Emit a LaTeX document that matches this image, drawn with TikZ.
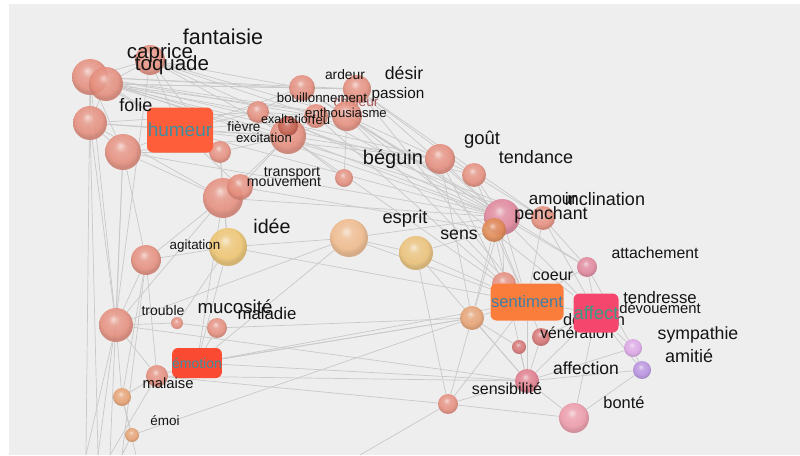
\documentclass[tikz,border=0pt]{standalone}
\usepackage{fontspec}
\setmainfont{Liberation Sans}
\usetikzlibrary{backgrounds}
\definecolor{fond}{HTML}{EEEEEE}
\definecolor{trait}{HTML}{C9C9C9}
\definecolor{encre}{HTML}{141414}
\definecolor{saumon}{HTML}{E58D7C}
\definecolor{rouille}{HTML}{C4604F}
\definecolor{jaune}{HTML}{EDC36E}
\definecolor{peche}{HTML}{EFB98A}
\definecolor{ocre}{HTML}{EAC076}
\definecolor{rose}{HTML}{E0849A}
\definecolor{orange}{HTML}{E08850}
\definecolor{abricot}{HTML}{E6A070}
\definecolor{framboise}{HTML}{E07888}
\definecolor{dragee}{HTML}{EC98A8}
\definecolor{lilas}{HTML}{DCA5E6}
\definecolor{violet}{HTML}{B78FE0}
\definecolor{grenat}{HTML}{D67070}
\definecolor{tomate}{HTML}{FF5E3A}
\definecolor{mandarine}{HTML}{FB7D3C}
\definecolor{fuchsia}{HTML}{F5476E}
\definecolor{vermillon}{HTML}{FA4B32}
\definecolor{sarcelle}{HTML}{3C8EA0}
\definecolor{acier}{HTML}{3F7FA6}
\definecolor{jade}{HTML}{3A9A82}
\colorlet{boulecol}{saumon}
\pgfdeclareradialshading[boulecol]{boule}{\pgfqpoint{-4bp}{9bp}}{%
  color(0bp)=(boulecol!35!white); color(8bp)=(boulecol!85!white);
  color(20bp)=(boulecol); color(25bp)=(boulecol!88!black);
  color(50bp)=(boulecol!88!black)}

\tikzset{
  bulle/.style 2 args={circle, inner sep=0pt, minimum size=#1,
    /utils/exec={\colorlet{boulecol}{#2}}, shading=boule, fill opacity=0.88},
  mot/.style={font=\fontsize{#1}{#1}\selectfont, inner sep=0pt, text=encre},
  cadre/.style={fill=#1, rounded corners=6pt, inner sep=0pt},
  lien/.style={draw=trait, line width=0.7pt},
}

\begin{document}
\begin{tikzpicture}[x=1pt, y=-1pt]
  \useasboundingbox (0,0) rectangle (800,455);

  % mots caches derriere les bulles
  \node[mot=13.7, text=grenat!80!black] (t-chaleur) at (356,102) {chaleur};

  % bulles
  \node[bulle={36}{saumon}] (fant) at (90,77) {};
  \node[bulle={34}{saumon}] (toq) at (106,84) {};
  \node[bulle={30}{saumon}] (capr) at (150,60) {};
  \node[bulle={34}{saumon}] (fol) at (90,123) {};
  \node[bulle={36}{saumon}] (hum2) at (123,152) {};
  \node[bulle={22}{saumon}] (fiev) at (220,152) {};
  \node[bulle={22}{saumon}] (exal) at (258,112) {};
  \node[bulle={36}{saumon}] (exci) at (288,136) {};
  \node[bulle={20}{rouille}] (exci2) at (288,126) {};
  \node[bulle={26}{saumon}] (bouil) at (302,88) {};
  \node[bulle={28}{saumon}] (ardr) at (357,89) {};
  \node[bulle={24}{saumon}] (feu) at (316,116) {};
  \node[bulle={30}{saumon}] (enth) at (347,116) {};
  \node[bulle={18}{saumon}] (trsp) at (344,178) {};
  \node[bulle={40}{saumon}] (mouv) at (223,198) {};
  \node[bulle={26}{saumon}] (mouv2) at (240,187) {};
  \node[bulle={38}{jaune}] (idee) at (228,247) {};
  \node[bulle={30}{saumon}] (agit) at (146,260) {};
  \node[bulle={38}{peche}] (espr) at (349,238) {};
  \node[bulle={34}{ocre}] (espr2) at (416,253) {};
  \node[bulle={30}{saumon}] (begu) at (440,159) {};
  \node[bulle={24}{saumon}] (gout) at (474,175) {};
  \node[bulle={36}{rose}] (penc) at (502,217) {};
  \node[bulle={24}{orange}] (sens) at (494,230) {};
  \node[bulle={24}{saumon}] (incl) at (543,218) {};
  \node[bulle={20}{rose}] (atta) at (587,267) {};
  \node[bulle={24}{saumon}] (coeur) at (504,284) {};
  \node[bulle={24}{abricot}] (sent2) at (472,318) {};
  \node[bulle={18}{grenat}] (vene) at (541,337) {};
  \node[bulle={14}{grenat}] (devo) at (519,347) {};
  \node[bulle={18}{lilas}] (symp) at (633,348) {};
  \node[bulle={18}{violet}] (amit) at (642,370) {};
  \node[bulle={24}{framboise}] (sensi) at (527,381) {};
  \node[bulle={20}{saumon}] (bas) at (448,404) {};
  \node[bulle={30}{dragee}] (bont) at (574,418) {};
  \node[bulle={34}{saumon}] (trou) at (116,325) {};
  \node[bulle={12}{saumon}] (trou2) at (177,323) {};
  \node[bulle={20}{saumon}] (malad) at (217,328) {};
  \node[bulle={22}{saumon}] (malai) at (157,376) {};
  \node[bulle={18}{abricot}] (emoi2) at (122,397) {};
  \node[bulle={14}{abricot}] (emoi) at (132,435) {};

  \node[mot=16.4] (t-devotion) at (594,320) {dévotion};
  \node[mot=15.7] (t-veneration) at (577,333) {vénération};

  % cadres
  \node[cadre=tomate, minimum width=66pt, minimum height=45pt] (humeur) at (180,130)
    {\fontsize{19}{19}\selectfont\color{sarcelle}humeur};
  \node[cadre=mandarine, minimum width=73pt, minimum height=37pt] (sentiment) at (527,302)
    {\fontsize{16.6}{16.6}\selectfont\color{acier}sentiment};
  \node[cadre=fuchsia, minimum width=45pt, minimum height=39pt] (affect) at (596,313)
    {\fontsize{18.5}{18.5}\selectfont\color{jade}affect};
  \node[cadre=vermillon, minimum width=49pt, minimum height=30pt] (emotion) at (197,363)
    {\fontsize{14}{14}\selectfont\color{sarcelle}émotion};

  % mots
  \node[mot=21.5] (t-fantaisie) at (223,37) {fantaisie};
  \node[mot=20.5] (t-caprice) at (160,53) {caprice};
  \node[mot=20.5] (t-toquade) at (172,65) {toquade};
  \node[mot=18] (t-folie) at (136,105) {folie};
  \node[mot=13.5] (t-fievre) at (244,127) {fièvre};
  \node[mot=13.2] (t-excitation) at (264,138) {excitation};
  \node[mot=12.5] (t-exaltation) at (288,119) {exaltation};
  \node[mot=13] (t-feu) at (321,120) {feu};
  \node[mot=13.3] (t-bouillonnement) at (322,98) {bouillonnement};
  \node[mot=13.8] (t-ardeur) at (345,75) {ardeur};
  \node[mot=17.7] (t-desir) at (404,73) {désir};
  \node[mot=15.3] (t-passion) at (398,95) {passion};
  \node[mot=13.1] (t-enthousiasme) at (346,113) {enthousiasme};
  \node[mot=20] (t-beguin) at (393,159) {béguin};
  \node[mot=14.2] (t-transport) at (292,173) {transport};
  \node[mot=14.2] (t-mouvement) at (284,182) {mouvement};
  \node[mot=18.5] (t-gout) at (482,140) {goût};
  \node[mot=18] (t-tendance) at (536,157) {tendance};
  \node[mot=17] (t-amour) at (553,200) {amour};
  \node[mot=18] (t-inclination) at (605,199) {inclination};
  \node[mot=17.8] (t-penchant) at (551,215) {penchant};
  \node[mot=17.7] (t-sens) at (459,235) {sens};
  \node[mot=18.4] (t-esprit) at (405,219) {esprit};
  \node[mot=19.7] (t-idee) at (272,226) {idée};
  \node[mot=13.4] (t-agitation) at (195,246) {agitation};
  \node[mot=14] (t-trouble) at (163,310) {trouble};
  \node[mot=18.7] (t-mucosite) at (235,307) {mucosité};
  \node[mot=16.8] (t-maladie) at (267,313) {maladie};
  \node[mot=14.8] (t-malaise) at (168,383) {malaise};
  \node[mot=13.5] (t-emoi) at (165,421) {émoi};
  \node[mot=15.8] (t-attachement) at (655,253) {attachement};
  \node[mot=16] (t-coeur) at (553,276) {coeur};
  \node[mot=16.7] (t-tendresse) at (660,298) {tendresse};
  \node[mot=14.8] (t-devouement) at (660,308) {dévouement};
  \node[mot=17.7] (t-sympathie) at (698,335) {sympathie};
  \node[mot=18] (t-amitie) at (689,356) {amitié};
  \node[mot=17.5] (t-affection) at (586,368) {affection};
  \node[mot=16] (t-sensibilite) at (507,389) {sensibilité};
  \node[mot=16.4] (t-bonte) at (624,403) {bonté};

  % sorties vers le bas
  \coordinate (b1) at (86,455);
  \coordinate (b2) at (98,455);
  \coordinate (b3) at (110,455);
  \coordinate (b4) at (122,455);
  \coordinate (b5) at (136,455);
  \coordinate (b6) at (360,455);

  \begin{pgfonlayer}{background}
    \fill[white] (0,0) rectangle (800,455);
    \fill[fond] (9,4) rectangle (800,455);
    \foreach \a/\b in {fant/toq, fant/capr, fant/fol, fant/hum2, fant/bouil, fant/ardr,
        fant/exci, fant/enth, fant/feu, fant/penc, fant/begu, fant/humeur, fant/trou, fant/b1,
        toq/capr, toq/bouil, toq/ardr, toq/enth, toq/exal, toq/incl, toq/gout, toq/humeur, toq/fol,
        capr/bouil, capr/exci, capr/humeur, capr/feu, capr/enth, capr/penc, capr/fiev, capr/b2,
        fol/hum2, fol/humeur, fol/exci, fol/trou, fol/b2, fol/exal, fol/mouv,
        hum2/humeur, hum2/agit, hum2/fiev, hum2/mouv, hum2/trou, hum2/b3, hum2/exci, hum2/penc,
        humeur/fiev, humeur/exal, humeur/exci, humeur/mouv2, humeur/enth, humeur/penc,
        humeur/begu, humeur/bouil,
        fiev/exci, fiev/mouv, fiev/idee,
        exal/bouil, exal/feu, exal/exci, exal/incl,
        exci/feu, exci/enth, exci/mouv, exci/penc, exci/sentiment, exci/begu, exci/trsp,
        bouil/ardr, bouil/feu, bouil/enth, bouil/penc, bouil/atta,
        ardr/enth, ardr/penc, ardr/incl, ardr/sentiment, ardr/gout,
        feu/enth, feu/penc, feu/coeur,
        enth/trsp, enth/penc, enth/affect, enth/begu, enth/sentiment,
        mouv/idee, mouv/mouv2, mouv/agit, mouv/trou, mouv/emotion, mouv/penc,
        mouv2/sens, mouv2/exci,
        idee/espr, idee/agit, idee/emotion, idee/trou2, idee/sentiment,
        agit/trou, agit/malai, agit/emoi2, agit/b4,
        espr/espr2, espr/penc, espr/sentiment, espr/emotion, espr/trou,
        espr2/sens, espr2/sentiment, espr2/sensi, espr2/bas,
        begu/gout, begu/penc, begu/sent2, begu/coeur,
        gout/penc, gout/sentiment, gout/incl,
        penc/sens, penc/incl, penc/coeur, penc/sentiment, penc/affect, penc/atta, penc/sent2,
        sens/sentiment, sens/sent2, sens/sensi,
        incl/atta, incl/affect, incl/sentiment,
        atta/affect, atta/sentiment, atta/symp,
        coeur/sentiment, sentiment/affect, sentiment/sent2, sentiment/vene,
        sentiment/sensi, sentiment/bas,
        affect/symp, affect/amit, affect/vene, affect/bont, affect/sensi,
        sent2/sensi, sent2/bas, sent2/devo, sent2/emotion,
        vene/sensi, devo/sensi, symp/amit, symp/sensi, amit/sensi, amit/bont,
        sensi/bont, bas/bont, bas/sensi, bas/b6,
        trou/trou2, trou/malai, trou/emoi2, trou/sensi, trou/b1,
        trou2/malad, malad/sent2, malad/emotion,
        emotion/malai, emotion/sensi, emotion/sent2, emotion/sentiment,
        malai/emoi2, malai/sensi, malai/bas, malai/b3,
        emoi2/emoi, emoi2/b5, emoi/sent2, emoi/b4}
      \draw[lien] (\a) -- (\b);
  \end{pgfonlayer}
\end{tikzpicture}
\end{document}
